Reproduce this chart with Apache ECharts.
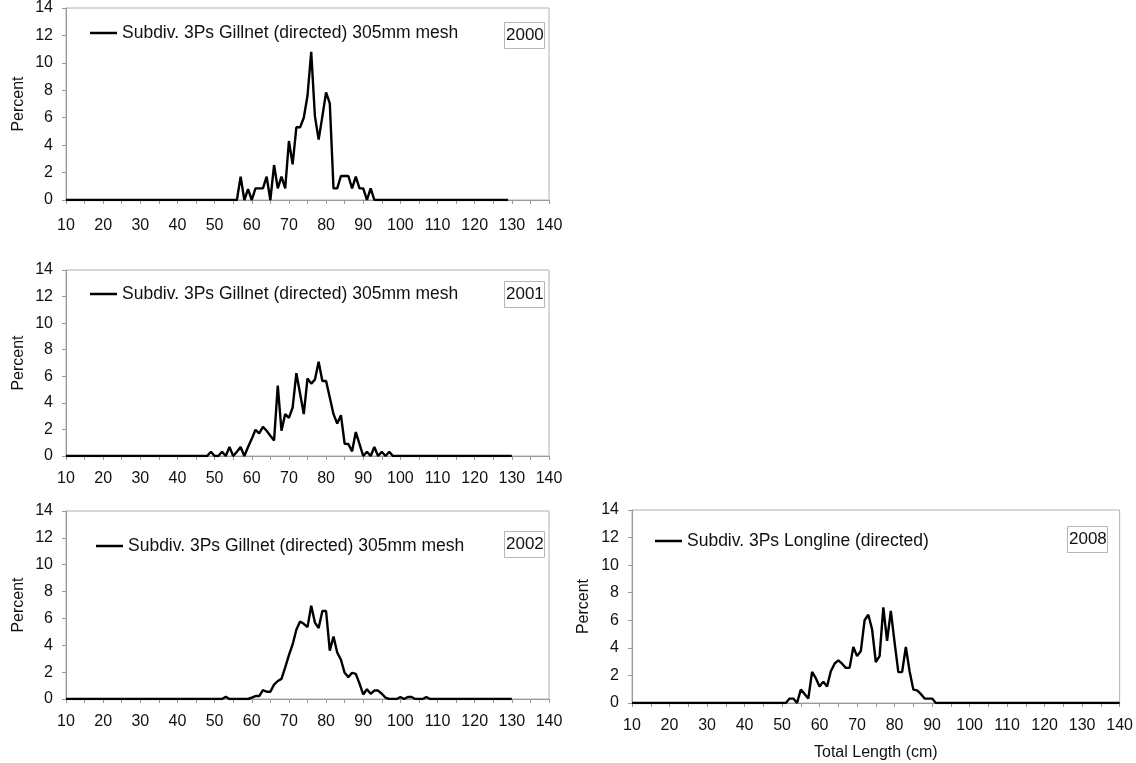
<!DOCTYPE html>
<html>
<head>
<meta charset="utf-8">
<script src="https://cdn.jsdelivr.net/npm/echarts@6/dist/echarts.min.js"></script>
<style>
html,body{margin:0;padding:0;background:#fff;}
#chart{width:1136px;height:763px;}
</style>
</head>
<body>
<div id="chart"></div>
<script>
// Length classes (cm)
const lengths10to130 = [10,11,12,13,14,15,16,17,18,19,20,21,22,23,24,25,26,27,28,29,30,31,32,33,34,35,36,37,38,39,40,41,42,43,44,45,46,47,48,49,50,51,52,53,54,55,56,57,58,59,60,61,62,63,64,65,66,67,68,69,70,71,72,73,74,75,76,77,78,79,80,81,82,83,84,85,86,87,88,89,90,91,92,93,94,95,96,97,98,99,100,101,102,103,104,105,106,107,108,109,110,111,112,113,114,115,116,117,118,119,120,121,122,123,124,125,126,127,128,129,130];
const lengths10to140 = [10,11,12,13,14,15,16,17,18,19,20,21,22,23,24,25,26,27,28,29,30,31,32,33,34,35,36,37,38,39,40,41,42,43,44,45,46,47,48,49,50,51,52,53,54,55,56,57,58,59,60,61,62,63,64,65,66,67,68,69,70,71,72,73,74,75,76,77,78,79,80,81,82,83,84,85,86,87,88,89,90,91,92,93,94,95,96,97,98,99,100,101,102,103,104,105,106,107,108,109,110,111,112,113,114,115,116,117,118,119,120,121,122,123,124,125,126,127,128,129,130,131,132,133,134,135,136,137,138,139,140];

// Percent at length, one value per length class
const pct2000 = [0,0,0,0,0,0,0,0,0,0, 0,0,0,0,0,0,0,0,0,0, 0,0,0,0,0,0,0,0,0,0, 0,0,0,0,0,0,0,0,0,0, 0,0,0,0,0,0,0,
  1.7,0,0.8,0,0.85,0.85,0.85,1.7,0,2.55, 0.85,1.7,0.85,4.3,2.6,5.3,5.3,6.0,7.6,10.8, 6.1,4.4,6.1,7.85,7.05,0.85,0.85,1.75,1.75,1.75, 0.85,1.7,0.85,0.85,0,0.85,0,
  0,0,0,0,0,0,0,0,0,0, 0,0,0,0,0,0,0,0,0,0, 0,0,0,0,0,0,0,0,0,0, 0,0,0,0,0,0];
const pct2001 = [0,0,0,0,0,0,0,0,0,0, 0,0,0,0,0,0,0,0,0,0, 0,0,0,0,0,0,0,0,0,0, 0,0,0,0,0,0,0,0,0,
  0.32,0,0,0.32,0,0.68,0,0.32,0.68,0, 0.68,1.29,1.97,1.7,2.19,1.9,1.53,1.17,5.3,1.9, 3.16,2.87,3.65,6.23,4.7,3.16,5.84,5.45,5.75,7.1, 5.64,5.64,4.4,3.15,2.45,3.07,0.92,0.9,0.35,1.8, 0.9,0,0.32,0,0.68,0,0.32,0,0.32,0,
  0,0,0,0,0,0,0,0,0,0, 0,0,0,0,0,0,0,0,0,0, 0,0,0,0,0,0,0,0,0,0, 0,0];
const pct2002 = [0,0,0,0,0,0,0,0,0,0, 0,0,0,0,0,0,0,0,0,0, 0,0,0,0,0,0,0,0,0,0, 0,0,0,0,0,0,0,0,0,0, 0,0,0,
  0.17,0,0,0,0,0,0,0.1,0.22,0.22, 0.66,0.54,0.54,1.07,1.34,1.5,2.36,3.26,4.06,5.16, 5.77,5.6,5.35,6.95,5.69,5.28,6.55,6.55,3.6,4.65, 3.46,2.92,1.95,1.63,1.95,1.87,1.14,0.34,0.73,0.39, 0.63,0.63,0.39,0.1,0,0,0,0.15,0,0.15, 0.15,0,0,0,0.15,0,
  0,0,0,0,0,0,0,0,0,0, 0,0,0,0,0,0,0,0,0,0, 0,0];
const pct2008 = [0,0,0,0,0,0,0,0,0,0, 0,0,0,0,0,0,0,0,0,0, 0,0,0,0,0,0,0,0,0,0, 0,0,0,0,0,0,0,0,0,0, 0,0,
  0.32,0.32,0,0.97,0.66,0.32,2.26,1.8,1.2,1.55, 1.2,2.3,2.85,3.1,2.85,2.55,2.55,4.06,3.4,3.77, 6.0,6.4,5.35,2.97,3.4,6.93,4.5,6.69,4.4,2.24, 2.24,4.06,2.3,0.97,0.92,0.66,0.32,0.32,0.32,0,
  0,0,0,0,0,0,0,0,0,0, 0,0,0,0,0,0,0,0,0,0, 0,0,0,0,0,0,0,0,0,0, 0,0,0,0,0,0,0,0,0,0, 0,0,0,0,0,0,0,0,0];

const seriesNames = ['Subdiv. 3Ps Gillnet (directed) 305mm mesh','Subdiv. 3Ps Gillnet (directed) 305mm mesh','Subdiv. 3Ps Gillnet (directed) 305mm mesh','Subdiv. 3Ps Longline (directed)'];
const yearLabels = ['2000','2001','2002','2008'];
const xTickLabels = [10,20,30,40,50,60,70,80,90,100,110,120,130,140];
const yTickLabels = [0,2,4,6,8,10,12,14];

const panelLengths = [lengths10to130, lengths10to130, lengths10to130, lengths10to140];
const panelValues = [pct2000, pct2001, pct2002, pct2008];

// layout
const grids = [
  {left:66, top:8, width:483, height:192},
  {left:66, top:270, width:483, height:186},
  {left:66, top:511, width:483, height:188},
  {left:632, top:510, width:488, height:193}
];
const legendPos = [{left:90, top:24},{left:90, top:285},{left:96, top:537},{left:655, top:532}];
const yearPos = [{left:504, top:22},{left:504, top:281},{left:504, top:531},{left:1067, top:526}];
const percentGap = [39, 39, 39, 40];
const xLabelMargin = [18, 15, 15, 15];

const FONT = 'Liberation Sans, Arial, sans-serif';
const AX = '#9a9a9a';

const option = {
  animation:false,
  backgroundColor:'#fff',
  textStyle:{fontFamily:FONT},
  grid: grids.map(g => Object.assign({show:true, borderColor:'#b0b0b0', borderWidth:1, backgroundColor:'transparent'}, g)),
  title: yearLabels.map((t,i)=>({
    text:t, left:yearPos[i].left, top:yearPos[i].top,
    padding:[5,1,5,2], borderColor:'#b5b5b5', borderWidth:1,
    textStyle:{fontSize:17, fontWeight:'normal', color:'#111', fontFamily:FONT}
  })),
  legend: seriesNames.map((n,i)=>({
    data:[{name:n}], seriesIndex:[i],
    left:legendPos[i].left, top:legendPos[i].top, padding:0,
    icon:'rect', itemWidth:27, itemHeight:2.5, itemGap:4, selectedMode:false,
    itemStyle:{color:'#000', borderWidth:0},
    textStyle:{fontSize:17.5, color:'#111', fontFamily:FONT, padding:[0,0,0,0]}
  })),
  xAxis: grids.map((g,i)=>({
    type:'value', gridIndex:i, min:10, max:140, interval:5,
    name: i===3 ? 'Total Length (cm)' : '',
    nameLocation:'middle', nameGap:42,
    nameTextStyle:{fontSize:16, color:'#111', fontFamily:FONT},
    axisLine:{show:true, onZero:false, lineStyle:{color:AX, width:1}},
    axisTick:{show:true, length:4, inside:false, lineStyle:{color:AX}},
    splitLine:{show:false},
    axisLabel:{margin:xLabelMargin[i], fontSize:16, color:'#111', fontFamily:FONT,
      formatter: v => xTickLabels.indexOf(v) >= 0 ? String(v) : ''}
  })),
  yAxis: grids.map((g,i)=>({
    type:'value', gridIndex:i, min:0, max:14, interval:2,
    name:'Percent', nameLocation:'middle', nameGap:percentGap[i],
    nameTextStyle:{fontSize:16, color:'#111', fontFamily:FONT},
    axisLine:{show:true, lineStyle:{color:AX, width:1}},
    axisTick:{show:true, length:4, lineStyle:{color:AX}},
    splitLine:{show:false},
    axisLabel:{margin:13, fontSize:16, color:'#111', fontFamily:FONT,
      formatter: v => yTickLabels.indexOf(v) >= 0 ? String(v) : ''}
  })),
  series: panelValues.map((vals,i)=>({
    type:'line', name:seriesNames[i], xAxisIndex:i, yAxisIndex:i,
    data: vals.map((v,k)=>[panelLengths[i][k], v]),
    symbol:'none', showSymbol:false,
    lineStyle:{color:'#000', width:2.4},
    itemStyle:{color:'#000'},
    emphasis:{disabled:true}
  }))
};

const chart = echarts.init(document.getElementById('chart'), null, {renderer:'canvas'});
chart.setOption(option);
</script>
</body>
</html>
